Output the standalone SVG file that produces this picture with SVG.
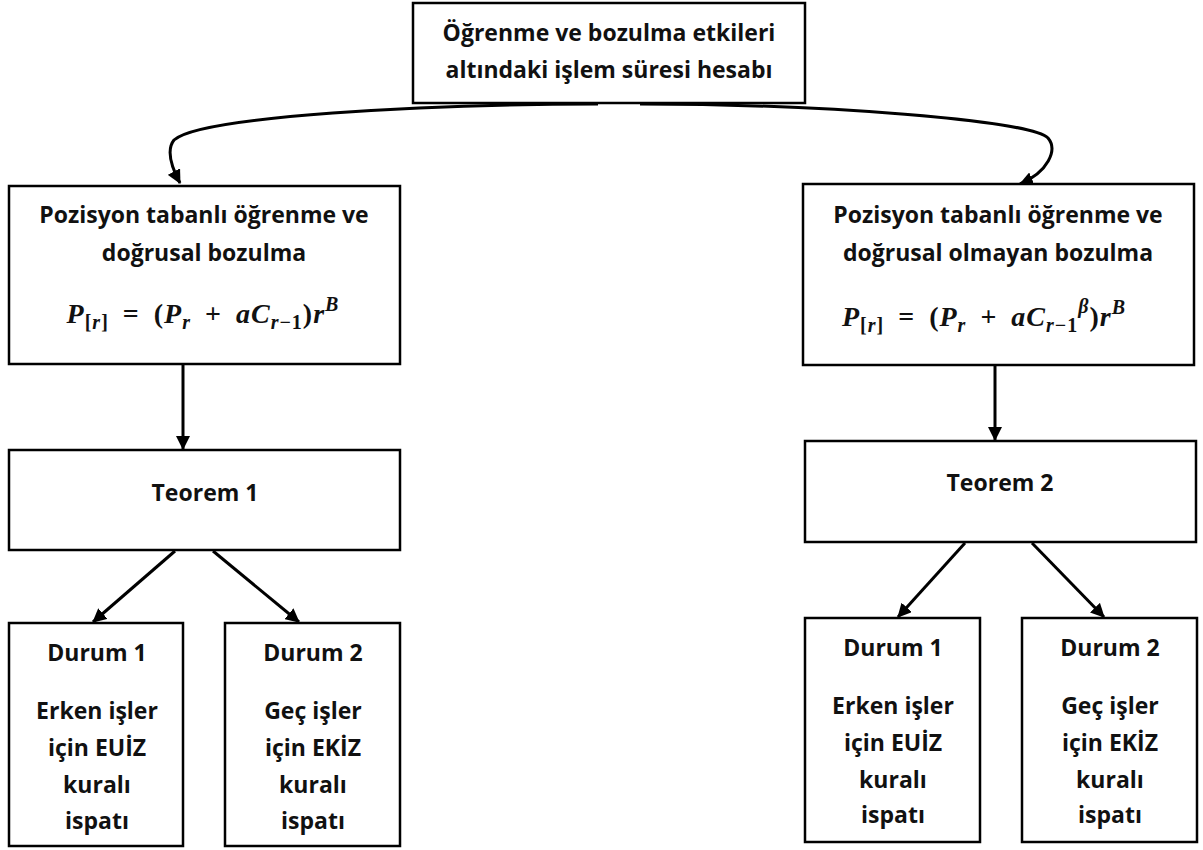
<svg xmlns="http://www.w3.org/2000/svg" width="1203" height="850" viewBox="0 0 1203 850">
<defs>
<marker id="arr" markerUnits="userSpaceOnUse" markerWidth="14" markerHeight="14" viewBox="0 0 14 14" refX="13" refY="7" orient="auto">
<path d="M0,0 L14,7 L0,14 Z" fill="#000"/>
</marker>
<style>
.box{fill:#fff;stroke:#000;stroke-width:2.5}
.t{font-family:"Open Sans","Liberation Sans",sans-serif;font-weight:700;font-size:23px;fill:#111;text-anchor:middle}
.m{font-family:"Liberation Serif","DejaVu Serif",serif;font-weight:700;font-style:italic;font-size:28px;fill:#111;text-anchor:middle;letter-spacing:1px;word-spacing:6px}
.up{font-style:normal}
.s{font-size:20px}
.c{fill:none;stroke:#000;stroke-width:3}
</style>
</defs>
<rect width="1203" height="850" fill="#fff"/>
<g id="connectors">
<path class="c" d="M598,104 C430,104 200,116 174,140 C166,150 172,168 180,183" marker-end="url(#arr)"/>
<path class="c" d="M640,104 C820,104 1030,120 1048,138 C1058,150 1048,172 1020,184" marker-end="url(#arr)"/>
<line class="c" x1="183" y1="364" x2="183" y2="449" marker-end="url(#arr)"/>
<line class="c" x1="995" y1="366" x2="995" y2="440" marker-end="url(#arr)"/>
<line class="c" x1="175" y1="551" x2="93" y2="622" marker-end="url(#arr)"/>
<line class="c" x1="213" y1="551" x2="299" y2="622" marker-end="url(#arr)"/>
<line class="c" x1="965" y1="543" x2="898" y2="617" marker-end="url(#arr)"/>
<line class="c" x1="1032" y1="543" x2="1104" y2="617" marker-end="url(#arr)"/>
</g>
<g id="top">
<rect class="box" x="413" y="3" width="392" height="100"/>
<text class="t" x="609" y="41">Öğrenme ve bozulma etkileri</text>
<text class="t" x="609" y="78">altındaki işlem süresi hesabı</text>
</g>
<g id="left-model">
<rect class="box" x="9" y="186" width="391" height="178"/>
<text class="t" x="204" y="223">Pozisyon tabanlı öğrenme ve</text>
<text class="t" x="204" y="261">doğrusal bozulma</text>
<text class="m" x="203" y="323">P<tspan class="s" dy="6"><tspan class="up">[</tspan>r<tspan class="up">]</tspan></tspan><tspan class="up" dy="-6"> = (</tspan>P<tspan class="s" dy="6">r</tspan><tspan class="up" dy="-6"> + </tspan>aC<tspan class="s" dy="6">r<tspan class="up">−1</tspan></tspan><tspan class="up" dy="-6">)</tspan>r<tspan class="s" dy="-12">B</tspan></text>
</g>
<g id="right-model">
<rect class="box" x="803" y="184" width="391" height="181"/>
<text class="t" x="998" y="223">Pozisyon tabanlı öğrenme ve</text>
<text class="t" x="998" y="261">doğrusal olmayan bozulma</text>
<text class="m" x="984" y="326">P<tspan class="s" dy="6"><tspan class="up">[</tspan>r<tspan class="up">]</tspan></tspan><tspan class="up" dy="-6"> = (</tspan>P<tspan class="s" dy="6">r</tspan><tspan class="up" dy="-6"> + </tspan>aC<tspan class="s" dy="6">r<tspan class="up">−1</tspan></tspan><tspan class="s" dy="-19">β</tspan><tspan class="up" dy="13">)</tspan>r<tspan class="s" dy="-12">B</tspan></text>
</g>
<g id="teorem1">
<rect class="box" x="9" y="450" width="391" height="100"/>
<text class="t" x="205" y="501">Teorem 1</text>
</g>
<g id="teorem2">
<rect class="box" x="805" y="441" width="391" height="101"/>
<text class="t" x="1000" y="491">Teorem 2</text>
</g>
<g id="l-durum1">
<rect class="box" x="9" y="623" width="174" height="223"/>
<text class="t" x="97" y="661">Durum 1</text>
<text class="t" x="97" y="719">Erken işler</text>
<text class="t" x="97" y="756">için EUİZ</text>
<text class="t" x="97" y="793">kuralı</text>
<text class="t" x="97" y="829">ispatı</text>
</g>
<g id="l-durum2">
<rect class="box" x="225" y="623" width="175" height="223"/>
<text class="t" x="313" y="661">Durum 2</text>
<text class="t" x="313" y="719">Geç işler</text>
<text class="t" x="313" y="756">için EKİZ</text>
<text class="t" x="313" y="793">kuralı</text>
<text class="t" x="313" y="829">ispatı</text>
</g>
<g id="r-durum1">
<rect class="box" x="805" y="618" width="175" height="224"/>
<text class="t" x="893" y="656">Durum 1</text>
<text class="t" x="893" y="714">Erken işler</text>
<text class="t" x="893" y="751">için EUİZ</text>
<text class="t" x="893" y="788">kuralı</text>
<text class="t" x="893" y="823">ispatı</text>
</g>
<g id="r-durum2">
<rect class="box" x="1022" y="618" width="175" height="224"/>
<text class="t" x="1110" y="656">Durum 2</text>
<text class="t" x="1110" y="714">Geç işler</text>
<text class="t" x="1110" y="751">için EKİZ</text>
<text class="t" x="1110" y="788">kuralı</text>
<text class="t" x="1110" y="823">ispatı</text>
</g>
</svg>
